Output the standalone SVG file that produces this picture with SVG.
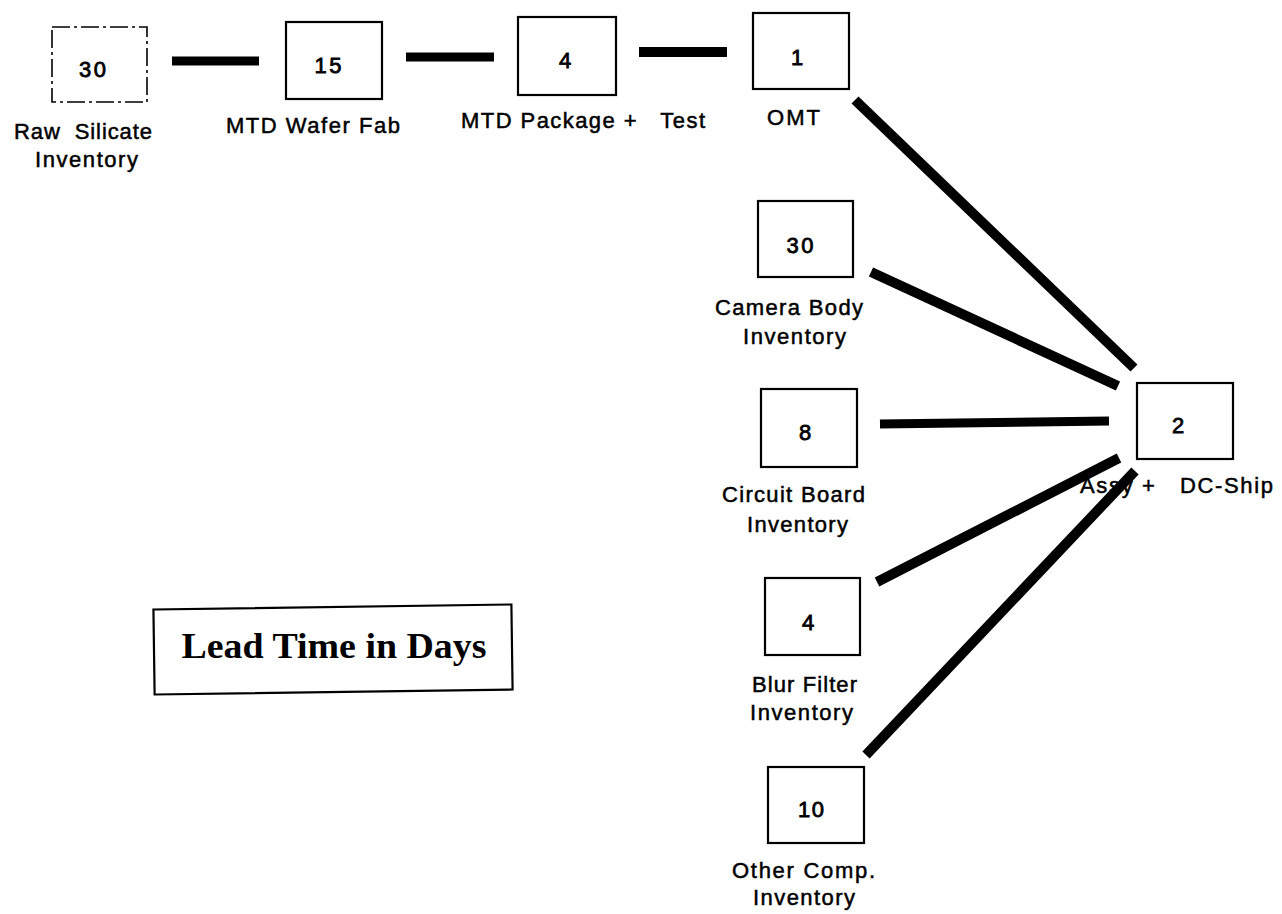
<svg xmlns="http://www.w3.org/2000/svg" width="1282" height="914" viewBox="0 0 1282 914" xml:space="preserve">
<style>
.box{fill:#fff;stroke:#000;stroke-width:2.2}
.dash{fill:#fff;stroke:#000;stroke-width:1.6;stroke-dasharray:18 4 3 4}
.lbl{font-family:"Liberation Sans",Arial,sans-serif;font-size:22px;fill:#000;stroke:#000;stroke-width:0.5;text-anchor:middle;white-space:pre}
.num{font-family:"Liberation Sans",Arial,sans-serif;font-size:22px;fill:#000;stroke:#000;stroke-width:0.8;text-anchor:middle}
.title{font-family:"Liberation Serif","Times New Roman",serif;font-size:36px;font-weight:bold;fill:#000;text-anchor:middle}
.conn line{stroke:#000;stroke-width:10;stroke-linecap:butt}
</style>
<rect width="1282" height="914" fill="#fff"/>
<g id="raw-silicate">
<rect class="dash" x="52" y="27" width="95" height="75"/>
<text class="num" x="92.5" y="77" textLength="27" lengthAdjust="spacing">30</text>
<text class="lbl" x="83" y="139" textLength="138" lengthAdjust="spacing">Raw  Silicate</text>
<text class="lbl" x="86.5" y="167" textLength="103" lengthAdjust="spacing">Inventory</text>
</g>
<g id="wafer-fab">
<rect class="box" x="286" y="22" width="96" height="77"/>
<text class="num" x="328" y="73" textLength="27" lengthAdjust="spacing">15</text>
<text class="lbl" x="313" y="133" textLength="174" lengthAdjust="spacing">MTD Wafer Fab</text>
</g>
<g id="package-test">
<rect class="box" x="518" y="17" width="98" height="78"/>
<text class="num" x="565" y="68">4</text>
<text class="lbl" x="583" y="128" textLength="244" lengthAdjust="spacing">MTD Package +   Test</text>
</g>
<g id="omt">
<rect class="box" x="753" y="13" width="96" height="76"/>
<text class="num" x="797" y="65">1</text>
<text class="lbl" x="793.5" y="125" textLength="53" lengthAdjust="spacing">OMT</text>
</g>
<g id="camera-body">
<rect class="box" x="758" y="201" width="95" height="76"/>
<text class="num" x="800" y="253" textLength="27" lengthAdjust="spacing">30</text>
<text class="lbl" x="789" y="315" textLength="148" lengthAdjust="spacing">Camera Body</text>
<text class="lbl" x="794.5" y="344" textLength="103" lengthAdjust="spacing">Inventory</text>
</g>
<g id="circuit-board">
<rect class="box" x="761" y="389" width="96" height="78"/>
<text class="num" x="805" y="440">8</text>
<text class="lbl" x="793.5" y="502" textLength="143" lengthAdjust="spacing">Circuit Board</text>
<text class="lbl" x="797.5" y="532" textLength="101" lengthAdjust="spacing">Inventory</text>
</g>
<g id="blur-filter">
<rect class="box" x="765" y="578" width="95" height="77"/>
<text class="num" x="808" y="630">4</text>
<text class="lbl" x="804.5" y="692" textLength="105" lengthAdjust="spacing">Blur Filter</text>
<text class="lbl" x="801.5" y="720" textLength="103" lengthAdjust="spacing">Inventory</text>
</g>
<g id="other-comp">
<rect class="box" x="768" y="767" width="96" height="76"/>
<text class="num" x="811" y="817" textLength="26" lengthAdjust="spacing">10</text>
<text class="lbl" x="803.5" y="878" textLength="143" lengthAdjust="spacing">Other Comp.</text>
<text class="lbl" x="804" y="905" textLength="102" lengthAdjust="spacing">Inventory</text>
</g>
<g id="assy-dc-ship">
<rect class="box" x="1137" y="383" width="96" height="76"/>
<text class="num" x="1178" y="433">2</text>
<text class="lbl" x="1176.5" y="493" textLength="193" lengthAdjust="spacing">Assy +   DC-Ship</text>
</g>
<g id="legend">
<rect class="box" x="154" y="607" width="358" height="85" transform="rotate(-0.8 333 649)"/>
<text class="title" x="334" y="658" textLength="305" lengthAdjust="spacingAndGlyphs">Lead Time in Days</text>
</g>
<g id="connectors" class="conn">
<line x1="172" y1="61" x2="259" y2="61" style="stroke-width:9"/>
<line x1="406" y1="57" x2="494" y2="57" style="stroke-width:9"/>
<line x1="639" y1="52" x2="727" y2="52"/>
<line x1="855" y1="100" x2="1134" y2="368"/>
<line x1="871" y1="272" x2="1118" y2="386"/>
<line x1="880" y1="424" x2="1109" y2="421" style="stroke-width:9"/>
<line x1="877" y1="582" x2="1119" y2="458"/>
<line x1="866" y1="755" x2="1135" y2="471"/>
</g>
</svg>
